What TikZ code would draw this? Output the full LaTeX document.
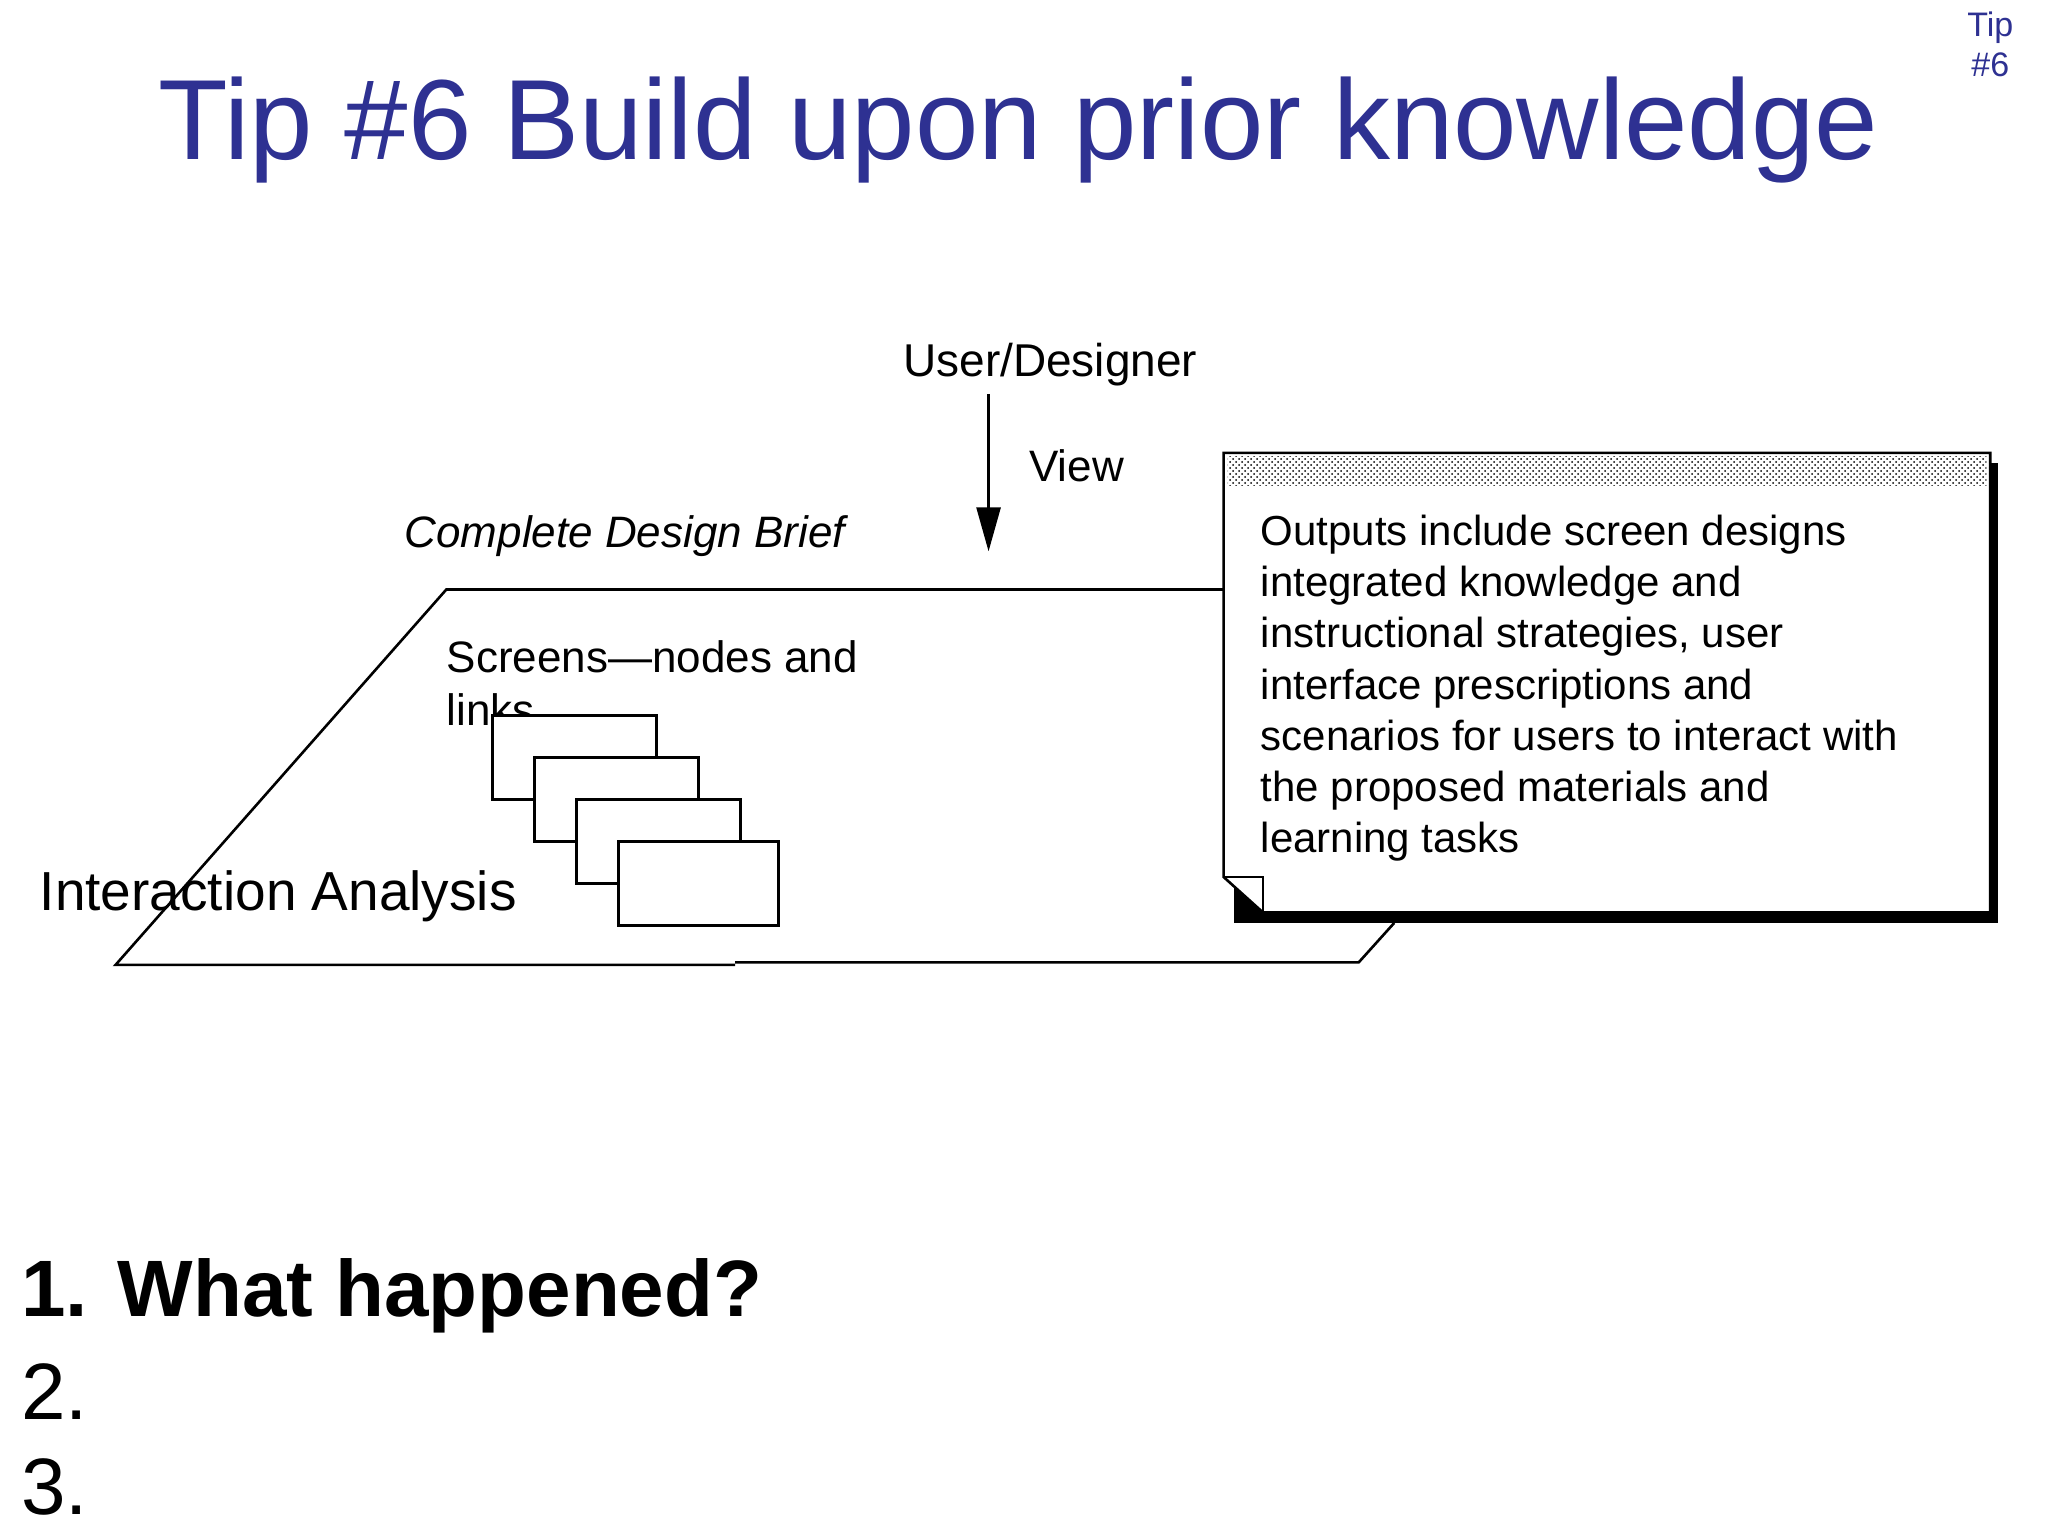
\documentclass[tikz,border=0pt]{standalone}
\usepackage{fontspec}
\setmainfont{Liberation Sans}
\usetikzlibrary{patterns,arrows.meta}
\definecolor{titleblue}{RGB}{46,49,146}
\begin{document}
\begin{tikzpicture}[x=0.6564pt,y=-0.6564pt,
  thinline/.style={draw=black,line width=1.3pt},
  scr/.style={draw=black,fill=white,line width=1.3pt},
  lbl/.style={inner sep=0pt,font=\fontsize{20}{24}\selectfont}]
\useasboundingbox[fill=white] (0,0) rectangle (1560,1170);
% title
\node[inner sep=0pt,text=titleblue,font=\fontsize{57}{66}\selectfont] (title) at (776,99) {Tip \#6 Build upon prior knowledge};
\node[inner sep=0pt,text=titleblue,align=center,font=\fontsize{17}{20}\selectfont] (tip) at (1516,34) {Tip\\\#6};
% parallelogram
\coordinate (p1) at (340,449);
\coordinate (p2) at (932,449);
\coordinate (p3) at (88,735);
\coordinate (p4) at (560,735);
\coordinate (p5) at (560,733);
\coordinate (p6) at (1035,733);
\coordinate (p7) at (1062,703);
\draw[thinline] (p2) -- (p1) -- (p3) -- (p4);
\draw[thinline] (p5) -- (p6) -- (p7);
% labels
\node[lbl,font=\fontsize{23}{26}\selectfont] (ud) at (800,278) {User/Designer};
\coordinate (a1) at (753,300);
\coordinate (a2) at (753,420);
\draw[thinline,-{Triangle[length=22pt,width=12pt]}] (a1) -- (a2);
\node[lbl,font=\fontsize{22}{24}\selectfont] (view) at (820,355) {View};
\node[lbl,anchor=west,font=\itshape\fontsize{22}{24}\selectfont] (cdb) at (308,408) {Complete Design Brief};
\node[lbl,anchor=north west,align=left,font=\fontsize{22}{26.5}\selectfont] (scrt) at (340,488) {Screens—nodes and\\links};
% screens
\node[scr,minimum width=82pt,minimum height=42pt,anchor=north west] (s1) at (374,544) {};
\node[scr,minimum width=82pt,minimum height=42pt,anchor=north west] (s2) at (406,576) {};
\node[scr,minimum width=82pt,minimum height=42pt,anchor=north west] (s3) at (438,608) {};
\node[scr,minimum width=80pt,minimum height=42pt,anchor=north west] (s4) at (470,640) {};
\node[lbl,anchor=west,font=\fontsize{27.5}{30}\selectfont] (ia) at (30,683) {Interaction Analysis};
% note
\fill[black] (940,353) rectangle (1522,703);
\draw[thinline,fill=white] (932,345) -- (1516,345) -- (1516,695) -- (962,695) -- (932,668) -- cycle;
\fill[pattern=crosshatch dots,pattern color=black] (935,348) rectangle (1513,370);
\draw[thinline] (932,668) -- (962,668) -- (962,695);
\node[lbl,anchor=north west,align=left,font=\fontsize{21}{25.6}\selectfont] (out) at (960,392) {Outputs include screen designs\\integrated knowledge and\\instructional strategies, user\\interface prescriptions and\\scenarios for users to interact with\\the proposed materials and\\learning tasks};
% bottom list
\node[inner sep=0pt,anchor=west,font=\bfseries\fontsize{40}{48}\selectfont] (q1) at (16,987) {1. What happened?};
\node[inner sep=0pt,anchor=west,font=\fontsize{40}{48}\selectfont] (q2) at (16,1060) {2.};
\node[inner sep=0pt,anchor=west,font=\fontsize{40}{48}\selectfont] (q3) at (16,1133) {3.};
\end{tikzpicture}
\end{document}
